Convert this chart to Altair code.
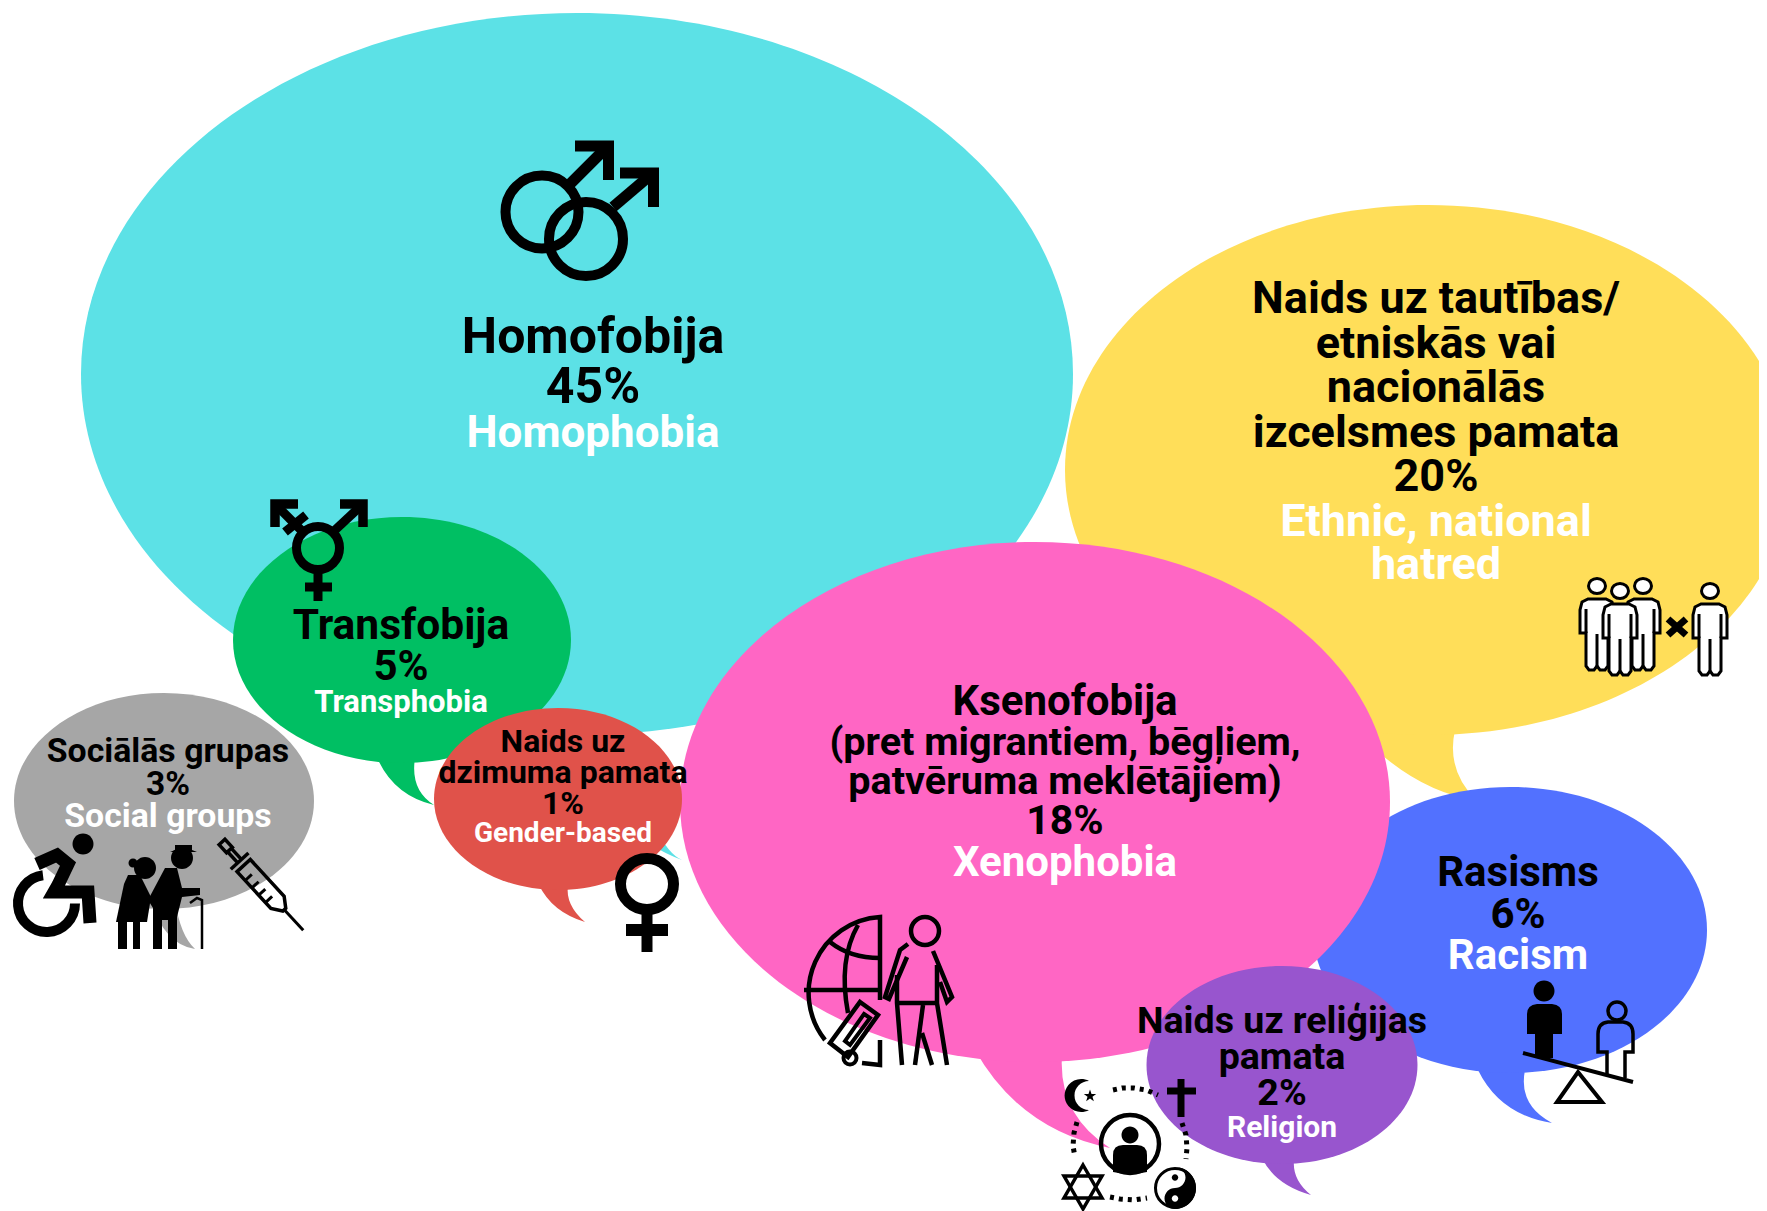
import math
import altair as alt
import pandas as pd

# ---- speech bubbles ----
bubble_names = ["Homophobia", "Ethnic", "Racism", "Xenophobia", "Transphobia", "Social", "Gender", "Religion"]
bubble_colors = ["#5CE1E6", "#FFDE59", "#5271FF", "#FF66C4", "#00BF63", "#A6A6A6", "#E0524A", "#9855CE"]
bubble_cx = [577, 1428, 1510, 1035, 402, 164, 558, 1282]
bubble_cy = [374, 470, 930, 802, 640, 801, 799, 1065]
bubble_rx = [496, 363, 197, 355, 169, 150, 124, 135.5]
bubble_ry = [361, 265, 143, 260, 123, 108, 91, 99]
# tail: start, control, tip, control, end
bubble_tails = [
    [(590, 730), (600, 830), (682, 860), (648, 845), (632, 725)],
    [(1330, 700), (1400, 790), (1476, 800), (1446, 770), (1455, 730)],
    [(1478, 1070), (1500, 1115), (1552, 1123), (1518, 1105), (1525, 1070)],
    [(975, 1050), (1020, 1130), (1110, 1148), (1058, 1115), (1062, 1055)],
    [(376, 755), (392, 795), (434, 805), (410, 790), (415, 758)],
    [(150, 900), (165, 945), (195, 949), (180, 935), (175, 900)],
    [(539, 885), (552, 912), (585, 922), (565, 905), (568, 885)],
    [(1262, 1158), (1275, 1185), (1311, 1195), (1292, 1180), (1294, 1160)],
]

# ---- text ----
text_lines = [
    "Homofobija", "45%", "Homophobia",
    "Naids uz tautības/", "etniskās vai", "nacionālās", "izcelsmes pamata", "20%", "Ethnic, national", "hatred",
    "Ksenofobija", "(pret migrantiem, bēgļiem,", "patvēruma meklētājiem)", "18%", "Xenophobia",
    "Transfobija", "5%", "Transphobia",
    "Sociālās grupas", "3%", "Social groups",
    "Naids uz", "dzimuma pamata", "1%", "Gender-based",
    "Rasisms", "6%", "Racism",
    "Naids uz reliģijas", "pamata", "2%", "Religion",
]
text_x = [593] * 3 + [1436] * 7 + [1065] * 5 + [401] * 3 + [168] * 3 + [563] * 4 + [1518] * 3 + [1282] * 4
text_y = [353, 403, 447, 313, 358, 402, 447, 491, 536, 579, 715, 755, 794, 834, 876,
          639, 680, 712, 762, 795, 827, 752, 783, 814, 842, 886, 928, 969, 1033, 1069, 1105, 1137]
text_size = [50, 50, 44, 45, 45, 45, 45, 45, 45, 45, 42, 39.6, 39.6, 41, 42,
             42.5, 42, 31, 33.8, 33.5, 33.8, 32, 32, 32, 28, 42, 42, 42, 37.6, 37.6, 37.6, 30]
text_color = ["black", "black", "white"] + ["black"] * 5 + ["white"] * 2 + ["black"] * 4 + ["white"] + \
             ["black", "black", "white"] * 2 + ["black"] * 3 + ["white"] + ["black", "black", "white"] + ["black"] * 3 + ["white"]

# ---- drawing helpers: all pictogram paths are relative to their anchor ----
icon_rows = []
dot_rows = []
B, W, N = "black", "white", "transparent"


def fmt(v):
    return f"{v:.2f}"


class Icon:
    def __init__(self, ox, oy):
        self.ox, self.oy = ox, oy

    def p(self, x, y):
        return f"{fmt(x - self.ox)} {fmt(y - self.oy)}"

    def circ_d(self, cx, cy, r, ry=None):
        ry = ry or r
        return (f"M{self.p(cx - r, cy)} A{r} {ry} 0 1 1 {self.p(cx + r, cy)} "
                f"A{r} {ry} 0 1 1 {self.p(cx - r, cy)} Z")

    def poly_d(self, pts, close=False):
        return "M" + " L".join(self.p(*q) for q in pts) + (" Z" if close else "")

    def add(self, d, fill=N, stroke=N, sw=0):
        icon_rows.append(dict(x=self.ox, y=self.oy, d=d, fill=fill, stroke=stroke, sw=sw, size=4))

    def line(self, pts, sw, close=False, fill=N, stroke=B):
        self.add(self.poly_d(pts, close), fill, stroke, sw)

    def ring(self, cx, cy, r, sw, fill=N, ry=None):
        self.add(self.circ_d(cx, cy, r, ry), fill, B, sw)

    def disc(self, cx, cy, r, fill=B):
        self.add(self.circ_d(cx, cy, r), fill)

    def solid(self, pts, fill=B):
        self.add(self.poly_d(pts, True), fill)

    def dots(self, pts):
        dot_rows.append(dict(x=self.ox, y=self.oy, d=self.poly_d(pts), size=4))


# double male symbol
a = Icon(590, 200)
a.ring(542, 212, 36.5, 10)
a.ring(586, 239, 37, 10)
a.line([(569, 185), (608, 146)], 11)
a.line([(575, 146), (608.5, 146), (608.5, 180)], 11)
a.line([(613, 207), (653, 173)], 11)
a.line([(620, 173), (653.5, 173), (653.5, 207)], 11)

# transgender symbol
a = Icon(318, 550)
a.ring(318, 548, 21.5, 9)
a.line([(318, 573), (318, 601)], 9)
a.line([(305, 587), (332, 587)], 9)
a.line([(334, 531), (363, 504)], 9)
a.line([(340, 504), (363, 504), (363, 527)], 9.5)
a.line([(302, 531), (275, 504)], 9)
a.line([(298, 504), (275, 504), (275, 527)], 9.5)
a.line([(285, 532), (306, 515)], 9)

# female symbol
a = Icon(647, 900)
a.ring(647, 884, 26.5, 11, ry=25.5)
a.line([(647, 914), (647, 952)], 11)
a.line([(626, 930), (668, 930)], 12)

# wheelchair
a = Icon(55, 890)
a.disc(83, 844, 10.5)
a.add(f"M{a.p(43, 875.2)} A28.5 28.5 0 1 0 {a.p(75, 903.5)}", N, B, 10)
a.line([(37, 864), (57, 855), (68, 864), (58, 885), (54, 892), (88, 892), (90, 923)], 13)

# elderly couple
a = Icon(160, 900)
a.disc(145, 868, 11)
a.disc(133, 863, 4.5)
a.solid([(128, 875), (140, 875), (151, 897), (147, 922), (116, 922), (124, 884)])
a.solid([(118, 922), (127, 922), (127, 949), (118, 949)])
a.solid([(133, 922), (140, 922), (140, 949), (133, 949)])
a.disc(182, 858, 11)
a.solid([(175, 845), (192, 845), (192, 850), (197, 852), (170, 852), (175, 850)])
a.solid([(165, 868), (177, 868), (182, 888), (200, 888), (200, 895), (182, 897), (177, 917), (177, 949),
         (168, 949), (168, 920), (162, 920), (162, 949), (153, 949), (153, 908), (148, 900)])
a.line([(190, 903), (197, 898), (202, 900), (202, 949)], 2.5)

# syringe
sx, sy, ux, uy = 222, 842, 0.677, 0.736


def sp(al, ac):
    return (sx + al * ux + ac * uy, sy + al * uy - ac * ux)


a = Icon(262, 885)
a.line([sp(0, -4), sp(0, 4), sp(11, 4), sp(11, -4)], 3.5, close=True)
a.line([sp(11, 2.5), sp(27, 2.5)], 3.5)
a.line([sp(11, -2.5), sp(27, -2.5)], 3.5)
a.line([sp(26, -12), sp(26, 12)], 3.5)
a.line([sp(32, -9), sp(32, 9), sp(82, 9), sp(92, 2), sp(92, -2), sp(82, -9)], 3.5, close=True)
a.line([sp(44, -9), sp(44, 0)], 3)
a.line([sp(54, -9), sp(54, 0)], 3)
a.line([sp(64, -9), sp(64, 0)], 3)
a.line([sp(74, -9), sp(74, 0)], 3)
a.line([sp(92, 0), sp(120, 0)], 3)

# globe and traveller
a = Icon(880, 990)
a.add(f"M{a.p(825, 1040)} A76 76 0 0 1 {a.p(880, 917)} L{a.p(880, 1000)}", N, B, 4.5)
a.line([(804, 990), (880, 990)], 4.5)
a.add(f"M{a.p(858, 925)} Q{a.p(838, 960)} {a.p(848, 1013)}", N, B, 4.5)
a.add(f"M{a.p(830, 942)} Q{a.p(850, 958)} {a.p(880, 958)}", N, B, 4.5)
a.line([(880, 1040), (880, 1065), (862, 1063)], 4.5)
a.line([(860, 1002), (878, 1015), (848, 1057), (830, 1043)], 4.5, close=True)
a.line([(864, 1014), (870, 1018), (850, 1045), (845, 1041)], 4, close=True)
a.ring(850, 1058, 6.5, 4)
a.ring(925, 931, 14, 4.5)
a.line([(908, 944), (900, 950), (885, 997), (889, 999), (907, 957)], 4.5)
a.line([(933, 951), (952, 997), (947, 1002), (940, 982)], 4.5)
a.line([(897, 1003), (937, 1003)], 4.5)
a.line([(897, 975), (897, 1003), (902, 1065)], 4.5)
a.line([(937, 965), (937, 1003), (947, 1065)], 4.5)
a.line([(923, 1005), (915, 1065)], 4.5)
a.line([(922, 1033), (932, 1065)], 4.5)

# religions
a = Icon(1130, 1143)
a.ring(1130, 1144, 29, 4.5)
a.disc(1130, 1135, 8.5)
a.add(f"M{a.p(1113, 1172)} L{a.p(1113, 1155)} Q{a.p(1113, 1145)} {a.p(1123, 1145)} L{a.p(1137, 1145)} "
      f"Q{a.p(1147, 1145)} {a.p(1147, 1155)} L{a.p(1147, 1172)} Q{a.p(1130, 1176)} {a.p(1113, 1172)} Z", B)
a.add(f"M{a.p(1089, 1081)} A16.5 16.5 0 1 0 {a.p(1089, 1110)} A14 14 0 1 1 {a.p(1089, 1081)} Z", B)
a.solid([(1090 + (6.5 if k % 2 == 0 else 2.6) * math.sin(k * math.pi / 5),
          1096 - (6.5 if k % 2 == 0 else 2.6) * math.cos(k * math.pi / 5)) for k in range(10)])
a.line([(1181, 1079), (1181, 1117)], 7)
a.line([(1167, 1091), (1196, 1091)], 7)
a.line([(1083, 1165), (1102, 1198), (1064, 1198)], 3.5, close=True)
a.line([(1083, 1209), (1064, 1176), (1102, 1176)], 3.5, close=True)
a.disc(1175, 1188, 21, W)
a.ring(1175, 1188, 19.5, 3)
a.add(f"M{a.p(1175, 1167)} A21 21 0 0 1 {a.p(1175, 1209)} A10.5 10.5 0 0 1 {a.p(1175, 1188)} "
      f"A10.5 10.5 0 0 0 {a.p(1175, 1167)} Z", B)
a.disc(1175, 1177.5, 3.2)
a.disc(1175, 1198.5, 3.2, W)
a.dots([(1113, 1090), (1122, 1088), (1134, 1088), (1146, 1090), (1158, 1095)])
a.dots([(1182, 1123), (1186, 1135), (1187, 1148), (1186, 1159)])
a.dots([(1110, 1197), (1120, 1199), (1134, 1200), (1147, 1198)])
a.dots([(1077, 1122), (1074, 1133), (1073, 1146), (1075, 1157)])

# people with a cross
for hx, hy in [(1597, 586), (1643, 586), (1620, 591), (1710, 591)]:
    a = Icon(hx, hy)
    a.line([(hx - 9, hy + 13), (hx + 9, hy + 13), (hx + 15, hy + 16), (hx + 17, hy + 24), (hx + 17, hy + 47),
            (hx + 11, hy + 47), (hx + 11, hy + 80), (hx + 8, hy + 84), (hx + 3, hy + 84), (hx, hy + 80),
            (hx - 3, hy + 84), (hx - 8, hy + 84), (hx - 11, hy + 80), (hx - 11, hy + 47), (hx - 17, hy + 47),
            (hx - 17, hy + 24), (hx - 15, hy + 16)], 3, close=True, fill=W)
    a.line([(hx - 11, hy + 23), (hx - 11, hy + 47)], 3)
    a.line([(hx + 11, hy + 23), (hx + 11, hy + 47)], 3)
    a.line([(hx, hy + 48), (hx, hy + 80)], 3)
    a.ring(hx, hy, 8.5, 3, fill=W, ry=7.5)
a = Icon(1677, 627)
a.line([(1668, 619), (1686, 635)], 7)
a.line([(1686, 619), (1668, 635)], 7)

# balance
a = Icon(1580, 1040)
a.disc(1544, 991, 10.5)
a.add(f"M{a.p(1535, 1058)} L{a.p(1535, 1034)} L{a.p(1527, 1034)} L{a.p(1527, 1014)} Q{a.p(1527, 1005)} {a.p(1537, 1004)} "
      f"L{a.p(1552, 1004)} Q{a.p(1562, 1005)} {a.p(1562, 1014)} L{a.p(1562, 1034)} L{a.p(1553, 1034)} L{a.p(1553, 1058)} Z", B)
a.ring(1617, 1011, 9, 3.5)
a.add(f"M{a.p(1607, 1076)} L{a.p(1607, 1052)} L{a.p(1598, 1052)} L{a.p(1598, 1034)} Q{a.p(1598, 1023)} {a.p(1608, 1022)} "
      f"L{a.p(1623, 1022)} Q{a.p(1633, 1023)} {a.p(1633, 1034)} L{a.p(1633, 1052)} L{a.p(1625, 1052)} L{a.p(1625, 1078)}", N, B, 3.5)
a.line([(1523, 1053), (1633, 1082)], 4)
a.line([(1578, 1072), (1602, 1102), (1557, 1102)], 4, close=True)

# ---- tables ----
rows = []
for i, name in enumerate(bubble_names):
    cx, cy, rx, ry = bubble_cx[i], bubble_cy[i], bubble_rx[i], bubble_ry[i]
    t = bubble_tails[i]
    rel = [(q[0] - cx, q[1] - cy) for q in t]
    tail = (f"M{rel[0][0]} {rel[0][1]} Q{rel[1][0]} {rel[1][1]} {rel[2][0]} {rel[2][1]} "
            f"Q{rel[3][0]} {rel[3][1]} {rel[4][0]} {rel[4][1]} Z")
    body = f"M{-rx} 0 A{rx} {ry} 0 1 1 {rx} 0 A{rx} {ry} 0 1 1 {-rx} 0 Z"
    rows.append(dict(x=cx, y=cy, d=tail, fill=bubble_colors[i], size=4))
    rows.append(dict(x=cx, y=cy, d=body, fill=bubble_colors[i], size=4))
bubbles = pd.DataFrame(rows)
icons = pd.DataFrame(icon_rows)
dots = pd.DataFrame(dot_rows)
texts = pd.DataFrame(dict(line=text_lines, x=text_x, y=text_y, fs=text_size, c=text_color))

W_PX, H_PX = 1751, 1203
X = alt.X("x:Q", axis=None, scale=alt.Scale(domain=[8, 8 + W_PX], range=[0, W_PX], nice=False, zero=False))
Y = alt.Y("y:Q", axis=None, scale=alt.Scale(domain=[8, 8 + H_PX], range=[0, H_PX], nice=False, zero=False))
SHAPE = alt.Shape("d:N", scale=None, legend=None)
SIZE = alt.Size("size:Q", scale=None, legend=None)

bubble_layer = alt.Chart(bubbles).mark_point(filled=True, opacity=1, strokeWidth=0).encode(
    x=X, y=Y, shape=SHAPE, size=SIZE, fill=alt.Fill("fill:N", scale=None, legend=None))

icon_layer = alt.Chart(icons).mark_point(filled=True, opacity=1).encode(
    x=X, y=Y, shape=SHAPE, size=SIZE,
    fill=alt.Fill("fill:N", scale=None, legend=None),
    stroke=alt.Stroke("stroke:N", scale=None, legend=None),
    strokeWidth=alt.StrokeWidth("sw:Q", scale=None, legend=None))

dot_layer = alt.Chart(dots).mark_point(filled=False, opacity=1, stroke="black", strokeWidth=5,
                                       strokeDash=[4, 5]).encode(
    x=X, y=Y, shape=SHAPE, size=SIZE)

text_layer = alt.Chart(texts).mark_text(font="Roboto", fontWeight="bold", align="center",
                                        baseline="alphabetic").encode(
    x=X, y=Y, text="line:N",
    size=alt.Size("fs:Q", scale=None, legend=None),
    color=alt.Color("c:N", scale=None, legend=None))

chart = alt.layer(bubble_layer, icon_layer, dot_layer, text_layer).properties(
    width=W_PX, height=H_PX, padding=0, background="white",
    autosize=alt.AutoSizeParams(type="none")
).configure_view(stroke=None)

chart.save("out.html", embed_options={"renderer": "svg", "actions": False})
